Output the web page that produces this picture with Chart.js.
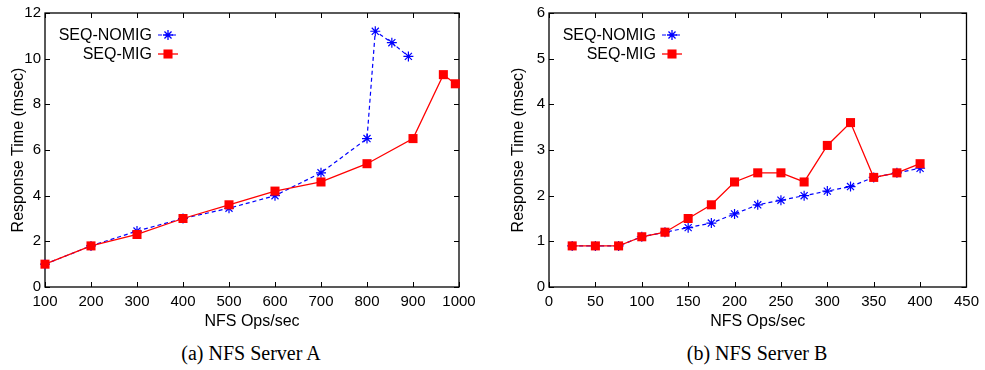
<!DOCTYPE html>
<html>
<head>
<meta charset="utf-8">
<script src="https://cdn.jsdelivr.net/npm/chart.js@4/dist/chart.umd.min.js"></script>
<style>
  html, body { margin: 0; padding: 0; background: #fff; }
  body { width: 985px; height: 370px; position: relative; overflow: hidden; }
  .wrap { position: absolute; top: 0; }
  .cap { position: absolute; font-family: "Liberation Serif", "Times New Roman", serif; font-size: 20px; color: #000; white-space: nowrap; transform: translateX(-50%); }
</style>
</head>
<body>
<div class="wrap" style="left:0;width:490px;height:335px"><canvas id="ca"></canvas></div>
<div class="wrap" style="left:500px;width:485px;height:335px"><canvas id="cb"></canvas></div>
<div class="cap" style="left:251px;top:342px">(a) NFS Server A</div>
<div class="cap" style="left:757px;top:342px">(b) NFS Server B</div>
<script>
// ---------- data ----------
const seriesNames = ["SEQ-NOMIG", "SEQ-MIG"];

// Panel (a) NFS Server A
const aNomigX = [100, 200, 300, 400, 500, 600, 700, 800, 818, 854, 890];
const aNomigY = [1.0, 1.8, 2.45, 3.0, 3.45, 4.0, 5.0, 6.5, 11.2, 10.7, 10.1];
const aMigX   = [100, 200, 300, 400, 500, 600, 700, 800, 900, 966, 992];
const aMigY   = [1.0, 1.8, 2.3, 3.0, 3.6, 4.2, 4.6, 5.4, 6.5, 9.3, 8.9];

// Panel (b) NFS Server B
const bX     = [25, 50, 75, 100, 125, 150, 175, 200, 225, 250, 275, 300, 325, 350, 375, 400];
const bNomigY = [0.9, 0.9, 0.9, 1.1, 1.2, 1.3, 1.4, 1.6, 1.8, 1.9, 2.0, 2.1, 2.2, 2.4, 2.5, 2.6];
const bMigY   = [0.9, 0.9, 0.9, 1.1, 1.2, 1.5, 1.8, 2.3, 2.5, 2.5, 2.3, 3.1, 3.6, 2.4, 2.5, 2.7];

// axis settings
const aXTicks = { min: 100, max: 1000, step: 100 };
const aYTicks = { min: 0, max: 12, step: 2 };
const bXTicks = { min: 0, max: 450, step: 50 };
const bYTicks = { min: 0, max: 6, step: 1 };
const xTitle = "NFS Ops/sec";
const yTitle = "Response Time (msec)";

// ---------- helpers ----------
const BLUE = "#0000ff";
const RED = "#ff0000";
const SANS = "'Liberation Sans', Arial, Helvetica, sans-serif";

function pts(xs, ys) { return xs.map((x, i) => ({ x: x, y: ys[i] })); }

function drawMarker(ctx, style, x, y, r, color) {
  ctx.save();
  ctx.strokeStyle = color; ctx.fillStyle = color; ctx.lineWidth = 1.3; ctx.setLineDash([]);
  if (style === "star") {
    ctx.beginPath();
    ctx.moveTo(x - r, y); ctx.lineTo(x + r, y);
    ctx.moveTo(x, y - r); ctx.lineTo(x, y + r);
    const d = r * Math.SQRT1_2;
    ctx.moveTo(x - d, y - d); ctx.lineTo(x + d, y + d);
    ctx.moveTo(x - d, y + d); ctx.lineTo(x + d, y - d);
    ctx.stroke();
  } else {
    const s = r * Math.SQRT1_2;
    ctx.fillRect(x - s, y - s, 2 * s, 2 * s);
  }
  ctx.restore();
}

const frame = {
  id: "frame",
  beforeDatasetsDraw(chart) {
    const ctx = chart.ctx, a = chart.chartArea;
    const xs = chart.scales.x, ys = chart.scales.y;
    ctx.save();
    ctx.strokeStyle = "#000"; ctx.lineWidth = 1.3;
    ctx.setLineDash([]);
    ctx.strokeRect(a.left, a.top, a.right - a.left, a.bottom - a.top);
    const tl = 5;
    ctx.beginPath();
    xs.ticks.forEach(t => {
      const px = Math.round(xs.getPixelForValue(t.value)) + 0.5;
      ctx.moveTo(px, a.bottom); ctx.lineTo(px, a.bottom - tl);
      ctx.moveTo(px, a.top); ctx.lineTo(px, a.top + tl);
    });
    ys.ticks.forEach(t => {
      const py = Math.round(ys.getPixelForValue(t.value)) + 0.5;
      ctx.moveTo(a.left, py); ctx.lineTo(a.left + tl, py);
      ctx.moveTo(a.right, py); ctx.lineTo(a.right - tl, py);
    });
    ctx.lineWidth = 1;
    ctx.stroke();
    ctx.restore();
  },
  afterDraw(chart) {
    // gnuplot-style key
    const ctx = chart.ctx, a = chart.chartArea;
    const tx = a.left + 107, l0 = a.left + 113, l1 = a.left + 133;
    const rows = [a.top + 22, a.top + 41];
    ctx.save();
    ctx.font = "16px " + SANS;
    ctx.fillStyle = "#000"; ctx.textAlign = "right"; ctx.textBaseline = "middle";
    chart.data.datasets.slice().sort((p, q) => p.keyRow - q.keyRow).forEach((ds, i) => {
      const y = rows[i];
      ctx.fillText(ds.label, tx, y + 1);
      ctx.save();
      ctx.strokeStyle = ds.borderColor; ctx.lineWidth = ds.borderWidth;
      ctx.setLineDash(ds.borderDash || []);
      ctx.beginPath(); ctx.moveTo(l0, y); ctx.lineTo(l1, y); ctx.stroke();
      ctx.restore();
      drawMarker(ctx, ds.pointStyle, (l0 + l1) / 2, y, ds.pointRadius, ds.pointBackgroundColor);
    });
    ctx.restore();
  }
};

function makeChart(id, nomig, mig, xt, yt, yAxisW, padRight) {
  return new Chart(document.getElementById(id), {
    type: "line",
    data: {
      datasets: [
        { label: seriesNames[1], data: mig, order: 0, keyRow: 1, clip: false,
          borderColor: RED, backgroundColor: RED, borderWidth: 1.3,
          pointStyle: "rect", pointRadius: 6.4, pointBackgroundColor: RED, pointBorderColor: RED, pointBorderWidth: 0,
          tension: 0, fill: false },
        { label: seriesNames[0], data: nomig, order: 1, keyRow: 0, clip: false,
          borderColor: BLUE, backgroundColor: BLUE, borderWidth: 1.2, borderDash: [4, 3],
          pointStyle: "star", pointRadius: 5, pointBackgroundColor: BLUE, pointBorderColor: BLUE, pointBorderWidth: 1.2,
          tension: 0, fill: false }
      ]
    },
    options: {
      responsive: true, maintainAspectRatio: false, animation: false,
      devicePixelRatio: 1,
      layout: { padding: { top: 13, right: padRight, bottom: 4, left: 0 } },
      plugins: { legend: { display: false }, tooltip: { enabled: false } },
      scales: {
        x: {
          type: "linear", min: xt.min, max: xt.max,
          grid: { display: false, drawTicks: false }, border: { display: false },
          ticks: { stepSize: xt.step, color: "#000", padding: 6, maxRotation: 0, autoSkip: false,
                   font: { family: SANS, size: 15 }, callback: v => String(v) },
          title: { display: true, text: xTitle, color: "#000", padding: { top: 0, bottom: 0 },
                   font: { family: SANS, size: 16 } },
          afterFit: s => { s.height = 44; }
        },
        y: {
          type: "linear", min: yt.min, max: yt.max,
          grid: { display: false, drawTicks: false }, border: { display: false },
          ticks: { stepSize: yt.step, color: "#000", padding: 4,
                   font: { family: SANS, size: 15 }, callback: v => String(v) },
          title: { display: true, text: yTitle, color: "#000", padding: { top: 9, bottom: 0 },
                   font: { family: SANS, size: 16 } },
          afterFit: s => { s.width = yAxisW; }
        }
      }
    },
    plugins: [frame]
  });
}

makeChart("ca", pts(aNomigX, aNomigY), pts(aMigX, aMigY), aXTicks, aYTicks, 45, 31);
makeChart("cb", pts(bX, bNomigY), pts(bX, bMigY), bXTicks, bYTicks, 49, 17);
</script>
</body>
</html>
